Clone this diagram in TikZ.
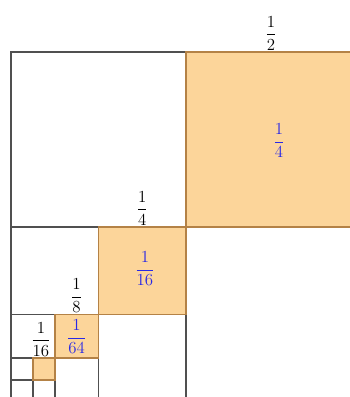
\documentclass[tikz,border=0pt]{standalone}
\usepackage{amsmath}
\usepackage{tikz}
\usepackage{xcolor}
\usetikzlibrary{positioning}
\definecolor{cellgray}{RGB}{80, 80, 80}
\definecolor{shadefill}{RGB}{252, 213, 154}
\definecolor{shadeedge}{RGB}{180, 130, 70}
\definecolor{areablue}{RGB}{40, 40, 230}

\begin{document}
\begin{tikzpicture}[
    x=0.025cm, y=-0.025cm,
    cell/.style={draw=cellgray, line width=1.1pt},
    shade/.style={fill=shadefill, draw=shadeedge, line width=1.1pt},
    side/.style={anchor=south, inner sep=1pt, text=black, font=\large},
    area/.style={text=areablue, font=\large}
]
\useasboundingbox (0,0) rectangle (350,397);
\clip (0,0) rectangle (350,397);

% white cells
\draw[cell] (11,52) rectangle (186,227);
\draw[cell] (186,227) rectangle (361,402);
\draw[cell] (11,227) rectangle (98.5,314.5);
\draw[cell] (98.5,314.5) rectangle (186,402);
\draw[cell] (11,314.5) rectangle (54.75,358.25);
\draw[cell] (54.75,358.25) rectangle (98.5,402);
\draw[cell] (11,358.25) rectangle (32.875,380.125);
\draw[cell] (32.875,380.125) rectangle (54.75,402);
\draw[cell] (11,380.125) rectangle (32.875,402);

% shaded cells
\draw[shade] (186,52) rectangle (361,227);
\draw[shade] (98.5,227) rectangle (186,314.5);
\draw[shade] (54.75,314.5) rectangle (98.5,358.25);
\draw[shade] (32.875,358.25) rectangle (54.75,380.125);

% side lengths
\node[side] (s1) at (271,52) {$\dfrac{1}{2}$};
\node[side] (s2) at (142.25,227) {$\dfrac{1}{4}$};
\node[side] (s3) at (76.6,314.5) {$\dfrac{1}{8}$};
\node[side] (s4) at (41,358.25) {$\dfrac{1}{16}$};

% areas
\node[area] (a1) at (279,141) {$\dfrac{1}{4}$};
\node[area] (a2) at (145,269) {$\dfrac{1}{16}$};
\node[area] (a3) at (76.6,337) {$\dfrac{1}{64}$};

\end{tikzpicture}
\end{document}
